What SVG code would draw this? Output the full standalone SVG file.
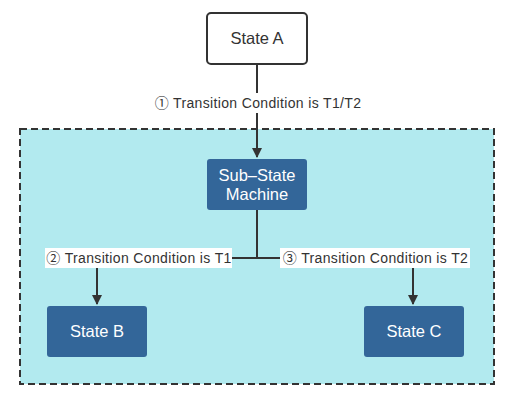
<svg xmlns="http://www.w3.org/2000/svg" width="515" height="403" viewBox="0 0 515 403">
<defs>
<marker id="arr" markerWidth="10" markerHeight="10" refX="9" refY="5" orient="auto" markerUnits="userSpaceOnUse"><path d="M0,0 L10,5 L0,10 Z" fill="#333"/></marker>
<style>
text{font-family:"Liberation Sans","Noto Sans CJK SC",sans-serif;}
.lbl{font-size:14px;fill:#333;letter-spacing:0.35px;}
.nt{font-size:16.5px;fill:#fff;text-anchor:middle;}
.node{fill:#336699;}
.edge{stroke:#333;stroke-width:2;fill:none;}
</style>
</defs>
<rect width="515" height="403" fill="#fff"/>
<g id="container"><rect x="20" y="129" width="474" height="255" fill="#b2eaef" stroke="#333" stroke-width="2" stroke-dasharray="7,4"/></g>
<g id="connectors">
<path class="edge" d="M257,64 V157" marker-end="url(#arr)"/>
<rect x="150" y="93" width="215" height="20" fill="#fff"/>
<text class="lbl" x="258" y="108" text-anchor="middle">① Transition Condition is T1/T2</text>
<path class="edge" d="M257,210 V258"/>
<path class="edge" d="M97,258 H413"/>
<path class="edge" d="M97,258 V304" marker-end="url(#arr)"/>
<path class="edge" d="M413,258 V304" marker-end="url(#arr)"/>
<rect x="45" y="248" width="187" height="20" fill="#fff"/>
<text class="lbl" x="139" y="263" text-anchor="middle">② Transition Condition is T1</text>
<rect x="280" y="248" width="190" height="20" fill="#fff"/>
<text class="lbl" x="375.5" y="263" text-anchor="middle">③ Transition Condition is T2</text>
</g>
<g id="stateA"><rect x="207" y="13" width="100" height="51" rx="4" fill="#fff" stroke="#333" stroke-width="2"/><text x="257" y="44" font-size="16.5" fill="#333" text-anchor="middle">State A</text></g>
<g id="substate"><rect class="node" x="207" y="159" width="100" height="51" rx="3"/><text class="nt" x="257" y="181">Sub–State</text><text class="nt" x="257" y="200">Machine</text></g>
<g id="stateB"><rect class="node" x="47" y="306" width="100" height="51" rx="3"/><text class="nt" x="97" y="337">State B</text></g>
<g id="stateC"><rect class="node" x="364" y="306" width="100" height="51" rx="3"/><text class="nt" x="414" y="337">State C</text></g>
</svg>
